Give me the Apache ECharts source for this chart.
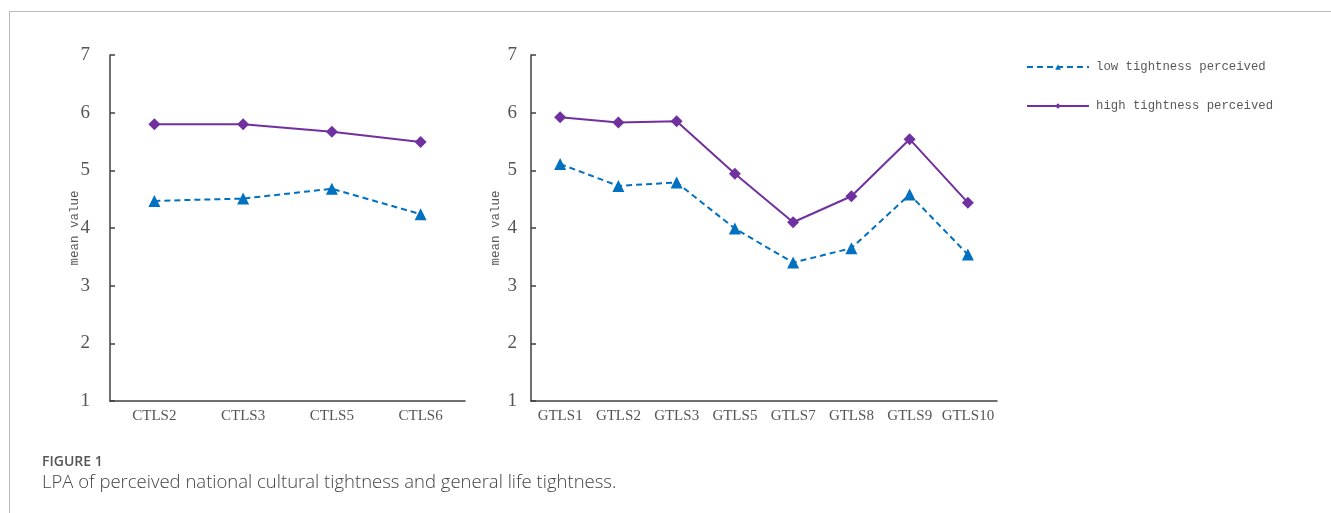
<!DOCTYPE html>
<html><head><meta charset="utf-8">
<script src="https://cdn.jsdelivr.net/npm/echarts@6/dist/echarts.min.js"></script>
<style>html,body{margin:0;padding:0;background:#fff}#c{width:1331px;height:513px}</style>
</head><body><div id="c"></div>
<script>
const ctlsCategories = ['CTLS2','CTLS3','CTLS5','CTLS6'];
const ctlsLow = [4.47, 4.51, 4.68, 4.24];
const ctlsHigh = [5.80, 5.80, 5.67, 5.49];
const gtlsCategories = ['GTLS1','GTLS2','GTLS3','GTLS5','GTLS7','GTLS8','GTLS9','GTLS10'];
const gtlsLow = [5.11, 4.73, 4.79, 3.99, 3.40, 3.65, 4.58, 3.54];
const gtlsHigh = [5.92, 5.83, 5.85, 4.94, 4.10, 4.55, 5.54, 4.44];
const yTicks = [1,2,3,4,5,6,7];
const lowName = 'low tightness perceived';
const highName = 'high tightness perceived';

const blue = '#0070C0', purple = '#7030A0';
const chart = echarts.init(document.getElementById('c'));
const axisColor = '#404040';
function yAxis(idx, margin, gap){
  return {
    type:'value', gridIndex: idx, min: yTicks[0], max: yTicks[yTicks.length-1], interval: 1,
    name: 'mean value', nameLocation: 'middle', nameGap: gap, nameRotate: 90, nameMoveOverlap: false,
    nameTextStyle: {fontFamily: 'Liberation Mono', fontSize: 12.5, color: '#595959'},
    axisLine: {show: true, lineStyle: {color: axisColor, width: 1.5}},
    axisTick: {show: true, inside: true, length: 5, lineStyle: {color: axisColor, width: 1.5}},
    splitLine: {show: false},
    axisLabel: {fontFamily: 'Liberation Serif', fontSize: 19, color: '#555', margin: margin}
  };
}
function xAxis(idx, cats){
  return {
    type:'category', gridIndex: idx, data: cats, boundaryGap: true,
    axisLine: {lineStyle: {color: axisColor, width: 1.5}},
    axisTick: {show: false},
    axisLabel: {interval: 0, fontFamily: 'Liberation Serif', fontSize: 15, color: '#555', margin: 8}
  };
}
function lowSeries(idx, data){
  return {name: lowName, type:'line', xAxisIndex: idx, yAxisIndex: idx, data: data,
    symbol: 'triangle', symbolSize: 12, color: blue,
    lineStyle: {color: blue, width: 2, type: [6,4]}, itemStyle: {color: blue}};
}
function highSeries(idx, data){
  return {name: highName, type:'line', xAxisIndex: idx, yAxisIndex: idx, data: data,
    symbol: 'diamond', symbolSize: 12, color: purple,
    lineStyle: {color: purple, width: 2}, itemStyle: {color: purple}};
}
chart.setOption({
  animation: false,
  grid: [
    {left: 110, top: 55, width: 355, height: 346},
    {left: 531, top: 55, width: 466, height: 346}
  ],
  xAxis: [xAxis(0, ctlsCategories), xAxis(1, gtlsCategories)],
  yAxis: [yAxis(0, 20, 29), yAxis(1, 14, 29)],
  legend: {
    orient: 'vertical', left: 1021, top: 56, itemGap: 27,
    itemWidth: 62, itemHeight: 7,
    textStyle: {fontFamily: 'Liberation Mono', fontSize: 12.3, color: '#595959', padding: [0,0,0,2]},
    data: [lowName, highName]
  },
  series: [
    lowSeries(0, ctlsLow), highSeries(0, ctlsHigh),
    lowSeries(1, gtlsLow), highSeries(1, gtlsHigh)
  ],
  graphic: [
    {type:'line', shape:{x1:9, y1:11.5, x2:1331, y2:11.5}, style:{stroke:'#bbb', lineWidth:1}},
    {type:'line', shape:{x1:9.5, y1:11, x2:9.5, y2:513}, style:{stroke:'#bbb', lineWidth:1}},
    {type:'text', x: 42, y: 455, style:{text:'FIGURE 1', font:'600 14px "Open Sans"', fill:'#555'}},
    {type:'text', x: 42, y: 473, style:{text:'LPA of perceived national cultural tightness and general life tightness.', font:'300 18.5px "Open Sans"', fill:'#444'}}
  ]
});
</script>
</body></html>
